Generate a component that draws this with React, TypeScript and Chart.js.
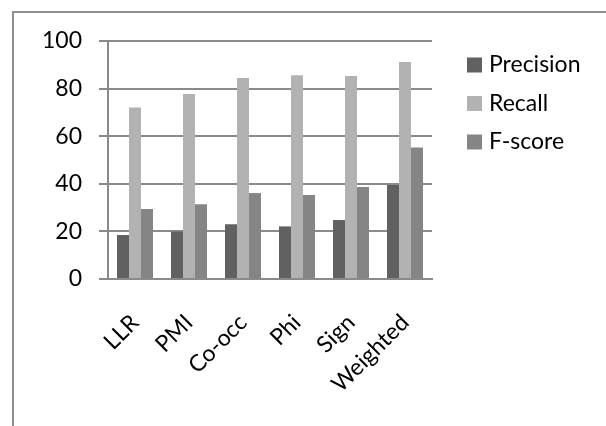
import React, { useEffect, useRef } from "react";
import { Chart, registerables } from "chart.js";

Chart.register(...registerables);

const categories = ["LLR", "PMI", "Co-occ", "Phi", "Sign", "Weighted"];
const precision = [18.5, 19.9, 23.0, 22.1, 24.8, 39.5];
const recall = [72.1, 77.7, 84.5, 85.6, 85.3, 91.2];
const fscore = [29.4, 31.4, 36.1, 35.3, 38.7, 55.2];
const seriesNames = ["Precision", "Recall", "F-score"];
const seriesColors = ["#616161", "#b2b2b2", "#858585"];

const FONT = "Lato, sans-serif";
const FONT_SIZE = 23;
const GRID = "#8a8a8a";

// Frame around the whole chart and the legend on the right
const framePlugin = {
  id: "frame",
  beforeDraw(chart: any) {
    const ctx = chart.ctx;
    ctx.save();
    ctx.fillStyle = "#ffffff";
    ctx.fillRect(0, 0, chart.width, chart.height);
    ctx.strokeStyle = "#8f8f8f";
    ctx.lineWidth = 2;
    ctx.strokeRect(13, 12, chart.width + 20, chart.height + 20);
    ctx.restore();
  },
  afterDraw(chart: any) {
    const ctx = chart.ctx;
    ctx.save();
    ctx.font = `${FONT_SIZE}px ${FONT}`;
    ctx.textBaseline = "middle";
    ctx.textAlign = "left";
    const x0 = chart.chartArea.right + 35;
    chart.data.datasets.forEach((ds: any, i: number) => {
      const cy = 65 + i * 38.5;
      ctx.fillStyle = ds.backgroundColor;
      ctx.fillRect(x0, cy - 7.5, 15, 15);
      ctx.fillStyle = "#000000";
      ctx.fillText(ds.label, x0 + 22, cy);
    });
    ctx.restore();
  },
};

export default function App() {
  const canvasRef = useRef<HTMLCanvasElement | null>(null);

  useEffect(() => {
    const canvas = canvasRef.current;
    if (!canvas) return;
    const series = [precision, recall, fscore];
    const chart = new Chart(canvas, {
      type: "bar",
      data: {
        labels: categories,
        datasets: series.map((values, i) => ({
          label: seriesNames[i],
          data: values,
          backgroundColor: seriesColors[i],
          borderWidth: 0,
          categoryPercentage: 2 / 3,
          barPercentage: 1,
        })),
      },
      options: {
        responsive: false,
        animation: false,
        devicePixelRatio: 1,
        layout: { padding: { left: 0, top: 41, right: 174, bottom: 0 } },
        plugins: {
          legend: { display: false },
          tooltip: { enabled: false },
        },
        scales: {
          x: {
            afterFit: (s: any) => {
              s.height = 147;
            },
            grid: { display: false, drawTicks: false },
            border: { display: true, color: GRID, width: 2 },
            ticks: {
              autoSkip: false,
              minRotation: 45,
              maxRotation: 45,
              padding: 30,
              color: "#000000",
              font: { family: FONT, size: FONT_SIZE },
            },
          },
          y: {
            min: 0,
            max: 100,
            afterFit: (s: any) => {
              s.width = 108;
            },
            grid: {
              color: GRID,
              lineWidth: 2,
              tickLength: 9,
              drawTicks: true,
            },
            border: { display: true, color: GRID, width: 2 },
            ticks: {
              stepSize: 20,
              padding: 17,
              color: "#000000",
              font: { family: FONT, size: FONT_SIZE },
            },
          },
        },
      },
      plugins: [framePlugin],
    });
    return () => chart.destroy();
  }, []);

  return (
    <div style={{ position: "fixed", left: 0, top: 0, width: 606, height: 426 }}>
      <canvas ref={canvasRef} width={606} height={426} style={{ width: 606, height: 426 }} />
    </div>
  );
}
